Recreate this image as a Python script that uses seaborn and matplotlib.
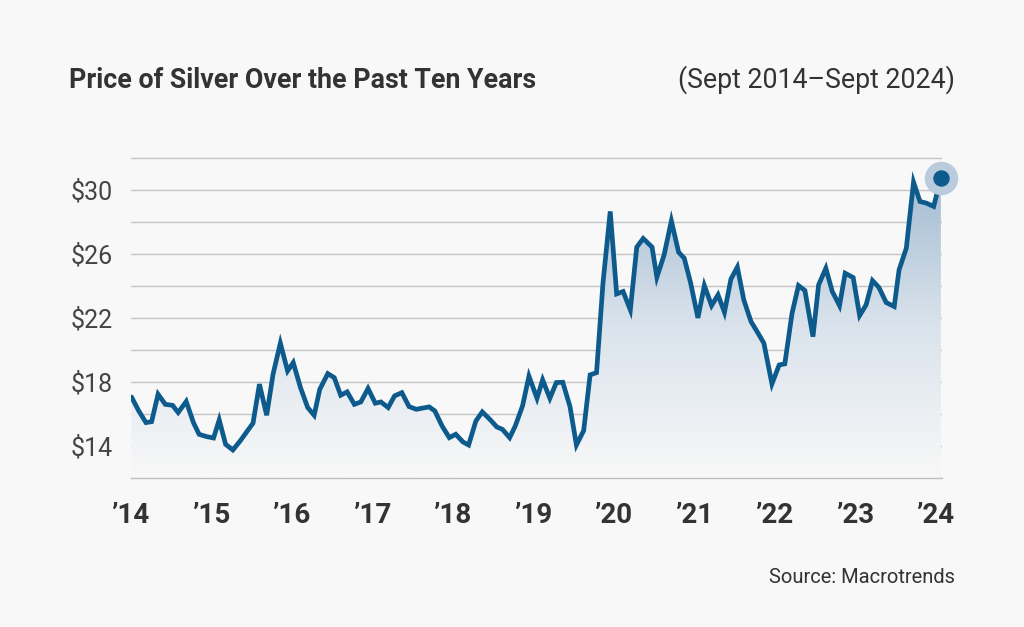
import matplotlib
matplotlib.use("Agg")
import matplotlib.pyplot as plt
from matplotlib.patches import Polygon
from matplotlib.colors import LinearSegmentedColormap
import seaborn as sns
import numpy as np
import pandas as pd

# monthly silver prices (decimal year, USD/oz)
years = [
    2014.01, 2014.10, 2014.19, 2014.26, 2014.34, 2014.43, 2014.52, 2014.59, 2014.69, 2014.78,
    2014.85, 2014.94, 2015.03, 2015.10, 2015.18, 2015.27, 2015.36, 2015.45, 2015.52, 2015.60,
    2015.69, 2015.77, 2015.86, 2015.95, 2016.02, 2016.11, 2016.20, 2016.28, 2016.35, 2016.45,
    2016.53, 2016.61, 2016.69, 2016.78, 2016.86, 2016.95, 2017.04, 2017.11, 2017.20, 2017.28,
    2017.37, 2017.46, 2017.55, 2017.62, 2017.71, 2017.78, 2017.87, 2017.96, 2018.04, 2018.13,
    2018.20, 2018.29, 2018.37, 2018.47, 2018.55, 2018.62, 2018.71, 2018.78, 2018.87, 2018.95,
    2019.05, 2019.12, 2019.21, 2019.29, 2019.37, 2019.46, 2019.54, 2019.63, 2019.71, 2019.79,
    2019.87, 2019.96, 2020.04, 2020.12, 2020.21, 2020.29, 2020.37, 2020.48, 2020.54, 2020.63,
    2020.72, 2020.81, 2020.88, 2020.96, 2021.05, 2021.13, 2021.22, 2021.30, 2021.38, 2021.46,
    2021.54, 2021.62, 2021.71, 2021.78, 2021.87, 2021.97, 2022.06, 2022.13, 2022.22, 2022.30,
    2022.38, 2022.48, 2022.55, 2022.64, 2022.72, 2022.81, 2022.88, 2022.98, 2023.06, 2023.14,
    2023.22, 2023.30, 2023.39, 2023.49, 2023.55, 2023.64, 2023.73, 2023.81, 2023.89, 2023.98,
    2024.07,
]
prices = [
    17.06, 16.19, 15.46, 15.52, 17.23, 16.60, 16.54, 16.09, 16.78, 15.46,
    14.73, 14.59, 14.50, 15.63, 14.10, 13.75, 14.31, 14.94, 15.42, 17.86,
    15.92, 18.50, 20.42, 18.69, 19.21, 17.65, 16.40, 15.92, 17.54, 18.52,
    18.27, 17.17, 17.38, 16.60, 16.75, 17.59, 16.67, 16.75, 16.40, 17.13,
    17.33, 16.46, 16.29, 16.36, 16.44, 16.19, 15.25, 14.52, 14.73, 14.25,
    14.06, 15.56, 16.13, 15.63, 15.19, 15.04, 14.52, 15.25, 16.50, 18.36,
    16.98, 18.13, 16.98, 17.96, 17.98, 16.46, 14.06, 14.96, 18.44, 18.58,
    24.17, 28.65, 23.50, 23.65, 22.50, 26.42, 26.96, 26.42, 24.54, 25.94,
    28.06, 26.10, 25.73, 24.17, 22.00, 24.02, 22.77, 23.44, 22.35, 24.42,
    25.17, 23.13, 21.77, 21.19, 20.42, 17.88, 19.06, 19.13, 22.29, 24.02,
    23.71, 20.83, 24.06, 25.10, 23.65, 22.77, 24.79, 24.52, 22.15, 22.81,
    24.33, 23.90, 22.96, 22.71, 25.00, 26.35, 30.48, 29.27, 29.17, 28.96,
    30.73,
]

year_ticks = list(range(2014, 2025))
year_labels = [f"\u2019{y % 100:02d}" for y in year_ticks]
price_grid = list(range(12, 34, 2))
price_labels = [f"${p}" if p in (14, 18, 22, 26, 30) else "" for p in price_grid]

df = pd.DataFrame({"year": years, "price": prices})

BG = "#f8f8f8"
LINE = "#0d5a8c"
TEXT = "#333333"

sns.set_theme(style="white")
plt.rcParams["font.family"] = ["Roboto", "DejaVu Sans"]

fig = plt.figure(figsize=(10.24, 6.27), dpi=100, facecolor=BG)
ax = fig.add_axes([130.7 / 1024, 1 - 478 / 627, (941.7 - 130.7) / 1024, (478 - 157) / 627])
ax.set_facecolor(BG)

x0, x1 = 2014.0, 2024.08
y0, y1 = 12, 32.05

# gradient fill under the line
cmap = LinearSegmentedColormap.from_list("fade", [BG, "#dae3ec", "#a2bbd1"])
grad = np.linspace(0, 1, 256).reshape(-1, 1)
im = ax.imshow(grad, extent=[x0, x1, y0, 31], origin="lower", aspect="auto",
               cmap=cmap, zorder=1)
verts = np.column_stack([df["year"], df["price"]])
verts = np.vstack([verts, [df["year"].iloc[-1], y0], [df["year"].iloc[0], y0]])
clip = Polygon(verts, closed=True, transform=ax.transData, facecolor="none", edgecolor="none")
ax.add_patch(clip)
im.set_clip_path(clip)

sns.lineplot(data=df, x="year", y="price", ax=ax, color=LINE, linewidth=3.4,
             zorder=4, solid_joinstyle="miter")

# highlighted latest value
last_x, last_y = df["year"].iloc[-1], df["price"].iloc[-1]
ax.scatter([last_x], [last_y], s=580, color="#b9cbdc", zorder=5, clip_on=False, linewidths=0)
ax.scatter([last_x], [last_y], s=140, color=LINE, zorder=6, clip_on=False, linewidths=0)

ax.set_xlim(x0, x1)
ax.set_ylim(y0, y1)
ax.set_yticks(price_grid)
ax.set_yticklabels(price_labels)
ax.set_xticks(year_ticks)
ax.set_xticklabels(year_labels)
ax.grid(axis="y", color="#c4c4c4", linewidth=1.0, zorder=0)
ax.set_axisbelow(True)
ax.set_xlabel("")
ax.set_ylabel("")

for side in ("top", "right", "left"):
    ax.spines[side].set_visible(False)
ax.spines["bottom"].set_color("#bdbdbd")
ax.spines["bottom"].set_linewidth(1.0)

ax.tick_params(axis="y", length=0, pad=13, labelsize=18, labelcolor="#444444")
ax.tick_params(axis="x", length=7, width=1, color="#bdbdbd", pad=10,
               labelsize=20, labelcolor=TEXT)
for lbl in ax.get_xticklabels():
    lbl.set_fontweight("bold")

fig.text(69 / 1024, 1 - 88 / 627, "Price of Silver Over the Past Ten Years",
         fontsize=19.3, fontweight="bold", color=TEXT, va="baseline", ha="left")
fig.text(955 / 1024, 1 - 88 / 627, "(Sept 2014\u2013Sept 2024)",
         fontsize=19.3, color=TEXT, va="baseline", ha="right")
fig.text(955 / 1024, 1 - 583 / 627, "Source: Macrotrends",
         fontsize=14.5, color=TEXT, va="baseline", ha="right")

fig.savefig("out.png", dpi=100, facecolor=BG)
